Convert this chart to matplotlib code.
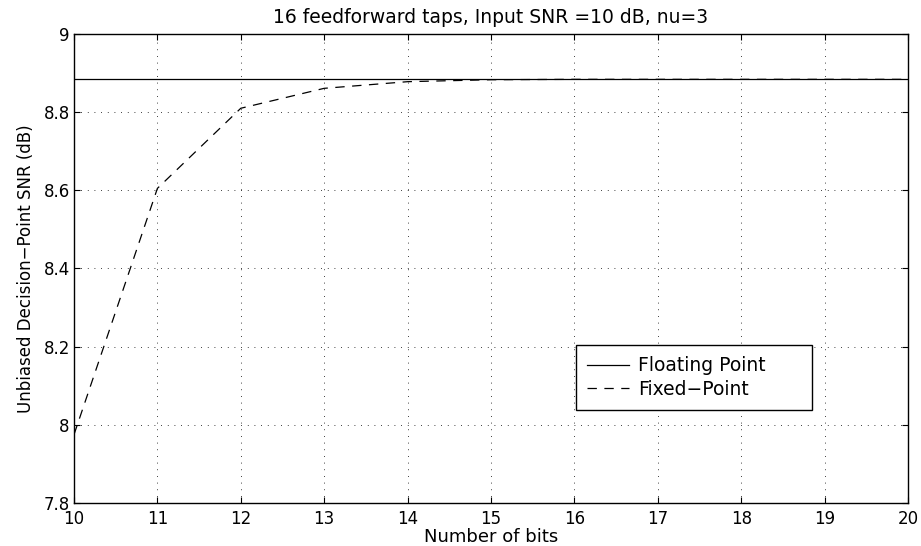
#!/usr/bin/env python3
import numpy as np
import matplotlib
matplotlib.use("Agg")
import matplotlib.pyplot as plt

plt.rcParams['font.family'] = ['DejaVu Sans']

# data
bits = [10, 11, 12, 13, 14, 15, 16, 17, 18, 19, 20]
fixed_snr = [7.975, 8.605, 8.81, 8.861, 8.878, 8.883, 8.884, 8.884, 8.884, 8.884, 8.884]
float_snr = 8.884

xticks = list(range(10, 21))
yticks = [7.8, 8, 8.2, 8.4, 8.6, 8.8, 9]
yticklabels = ["7.8", "8", "8.2", "8.4", "8.6", "8.8", "9"]


def plot():
    fig = plt.figure(figsize=(9.21, 5.46), dpi=100)
    ax = fig.add_axes([74 / 921, 1 - 503 / 546, 834 / 921, 469 / 546])

    ax.plot([bits[0], bits[-1]], [float_snr, float_snr], c='k', lw=0.9,
            label="Floating Point")
    ax.plot(bits, fixed_snr, c='k', lw=0.9, ls=(0, (7.5, 6)),
            label="Fixed\u2212Point")

    ax.set_xlim(10, 20)
    ax.set_ylim(7.8, 9)
    ax.set_xticks(xticks)
    ax.set_yticks(yticks)
    ax.set_yticklabels(yticklabels)
    ax.tick_params(direction='in', top=True, right=True, labelsize=12,
                   length=4, width=0.8, pad=3)
    ax.tick_params(axis='x', pad=5.2)
    ax.grid(True, ls=(0, (1, 7)), c='k', lw=0.6)
    for s in ax.spines.values():
        s.set_linewidth(1.0)

    ax.set_title("16 feedforward taps, Input SNR =10 dB, nu=3", fontsize=13.5,
                 pad=8)
    ax.set_xlabel("Number of bits", fontsize=13, labelpad=0)
    ax.set_ylabel("Unbiased Decision\u2212Point SNR (dB)", fontsize=12,
                  labelpad=6)

    leg = ax.legend(loc='center', bbox_to_anchor=(0.602, 0.198, 0.283, 0.139),
                    mode='expand', borderaxespad=0, fontsize=13.5,
                    fancybox=False, framealpha=1, edgecolor='k',
                    handlelength=2.2, handletextpad=0.5, borderpad=0.6,
                    labelspacing=0.25)
    leg.get_frame().set_linewidth(1.0)

    fig.savefig("out.png", dpi=100)


if __name__ == "__main__":
    plot()
